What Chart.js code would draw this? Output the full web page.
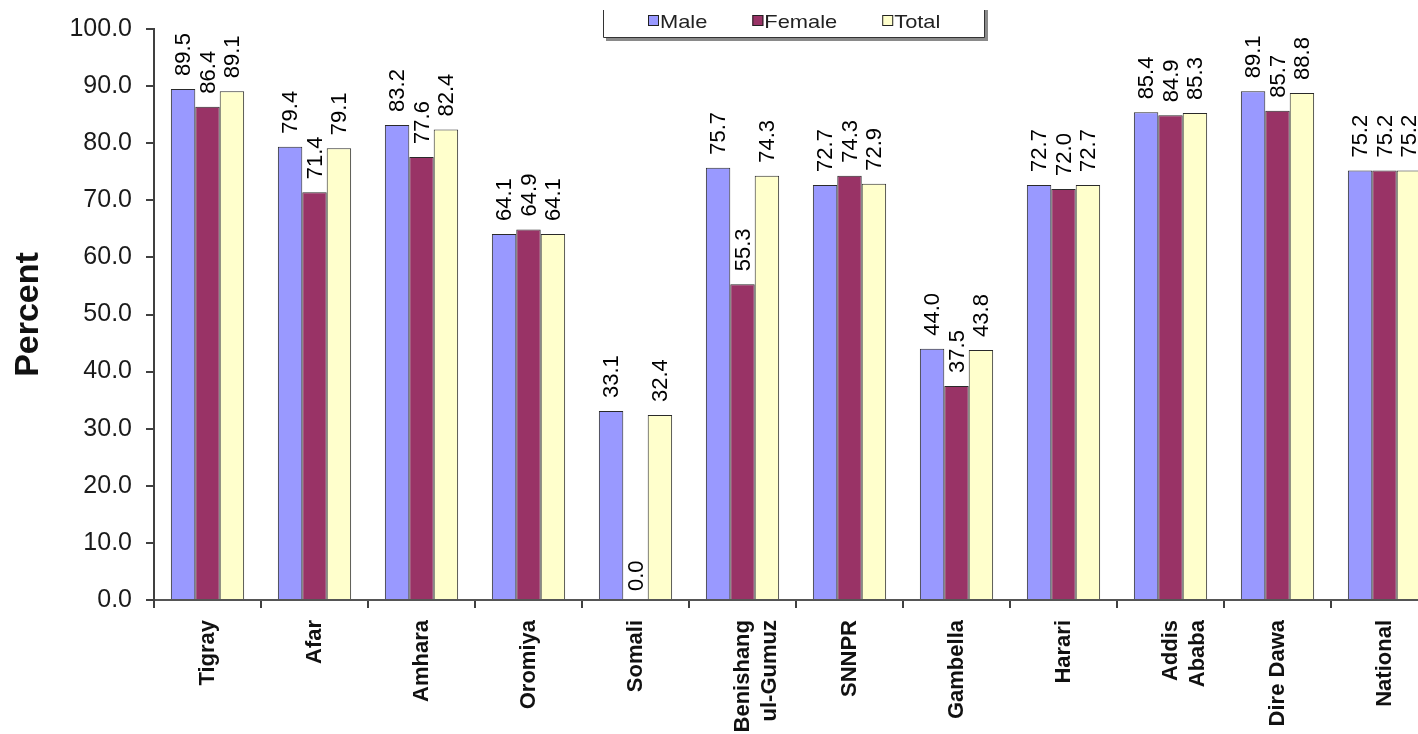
<!DOCTYPE html>
<html><head><meta charset="utf-8">
<script src="https://cdn.jsdelivr.net/npm/chart.js@4.4.1/dist/chart.umd.min.js"></script>
<style>
html,body{margin:0;padding:0;overflow:hidden;background:#fff;width:1418px;height:734px}
#wrap{width:1440px;height:734px;position:relative}
canvas{display:block}
</style></head>
<body><div id="wrap"><canvas id="c" width="1440" height="734"></canvas></div>
<script>
const categories = ['Tigray','Afar','Amhara','Oromiya','Somali',['Benishang','ul-Gumuz'],'SNNPR','Gambella','Harari',['Addis','Ababa'],'Dire Dawa','National'];
const male   = [89.5,79.4,83.2,64.1,33.1,75.7,72.7,44.0,72.7,85.4,89.1,75.2];
const female = [86.4,71.4,77.6,64.9,0.0,55.3,74.3,37.5,72.0,84.9,85.7,75.2];
const total  = [89.1,79.1,82.4,64.1,32.4,74.3,72.9,43.8,72.7,85.3,88.8,75.2];
const seriesNames = ['Male','Female','Total'];
const yTickValues = [0,10,20,30,40,50,60,70,80,90,100];
const yTitle = 'Percent';

const FONT = '"Liberation Sans", Arial, sans-serif';

const dataLabels = {
  id:'dataLabels',
  afterDatasetsDraw(chart){
    const ctx = chart.ctx;
    ctx.save();
    ctx.font = '22px ' + FONT;
    ctx.fillStyle = '#000';
    ctx.textAlign = 'left';
    ctx.textBaseline = 'middle';
    chart.data.datasets.forEach((ds, di) => {
      const meta = chart.getDatasetMeta(di);
      meta.data.forEach((el, i) => {
        const v = ds.data[i];
        ctx.save();
        ctx.translate(el.x + 1, el.y - (v === 0 ? 9 : 13));
        ctx.rotate(-Math.PI/2);
        ctx.fillText(v.toFixed(1), 0, 0);
        ctx.restore();
      });
    });
    ctx.restore();
  }
};

const legendBox = {
  id:'legendBox',
  afterDraw(chart){
    const ctx = chart.ctx;
    ctx.save();
    ctx.fillStyle = '#8a8a8a';
    ctx.fillRect(606, 37, 381, 4);
    ctx.fillRect(985, 10, 3, 31);
    ctx.strokeStyle = '#333';
    ctx.lineWidth = 1;
    ctx.beginPath();
    ctx.moveTo(603.5, 10); ctx.lineTo(603.5, 37.5); ctx.lineTo(984.5, 37.5); ctx.lineTo(984.5, 10);
    ctx.stroke();
    let x = 648;
    chart.data.datasets.forEach(ds => {
      ctx.fillStyle = ds.backgroundColor;
      ctx.fillRect(x, 15, 11, 11);
      ctx.strokeStyle = '#222';
      ctx.strokeRect(x + 0.5, 15.5, 10, 10);
      ctx.save();
      ctx.translate(x + 12, 27.5);
      ctx.scale(1.15, 1);
      ctx.font = '19px ' + FONT;
      ctx.fillStyle = '#222';
      ctx.textBaseline = 'alphabetic';
      ctx.textAlign = 'left';
      ctx.fillText(ds.label, 0, 0);
      const w = ctx.measureText(ds.label).width * 1.15;
      ctx.restore();
      x += 12 + w + 45;
    });
    ctx.restore();
  }
};

const colors = ['#9999FF','#993366','#FFFFCC'];
const seriesData = [male, female, total];

new Chart(document.getElementById('c'), {
  type:'bar',
  data:{
    labels: categories,
    datasets: seriesNames.map((n, i) => ({
      label: n,
      data: seriesData[i],
      backgroundColor: colors[i],
      borderColor: '#2a2a2a',
      borderWidth: 1,
      categoryPercentage: 0.685,
      barPercentage: 1.0
    }))
  },
  options:{
    responsive:false,
    animation:false,
    devicePixelRatio:1,
    layout:{padding:{top:28,right:2,left:0,bottom:0}},
    plugins:{legend:{display:false}, tooltip:{enabled:false}},
    scales:{
      x:{
        grid:{display:true, drawOnChartArea:false, drawTicks:true, tickLength:8, tickColor:'#404040', lineWidth:2, offset:true},
        border:{display:true, color:'#555', width:2},
        ticks:{minRotation:90, maxRotation:90, autoSkip:false, padding:12, color:'#111',
          font:{family:FONT, size:22, weight:'bold', lineHeight:1.25}},
        afterFit(s){ s.height = 134; }
      },
      y:{
        min:0, max:100,
        afterBuildTicks(s){ s.ticks = yTickValues.map(v => ({value:v})); },
        grid:{display:true, drawOnChartArea:false, drawTicks:true, tickLength:8, tickColor:'#404040', lineWidth:2},
        border:{display:true, color:'#404040', width:2},
        ticks:{padding:14, color:'#1a1a1a', font:{family:FONT, size:25},
          callback:(v)=>Number(v).toFixed(1)},
        title:{display:true, text:yTitle, color:'#111', font:{family:FONT, size:34, weight:'bold', lineHeight:1.2}, padding:{top:8,bottom:0}},
        afterFit(s){ s.width = 154; }
      }
    }
  },
  plugins:[dataLabels, legendBox]
});
</script>
</body></html>
